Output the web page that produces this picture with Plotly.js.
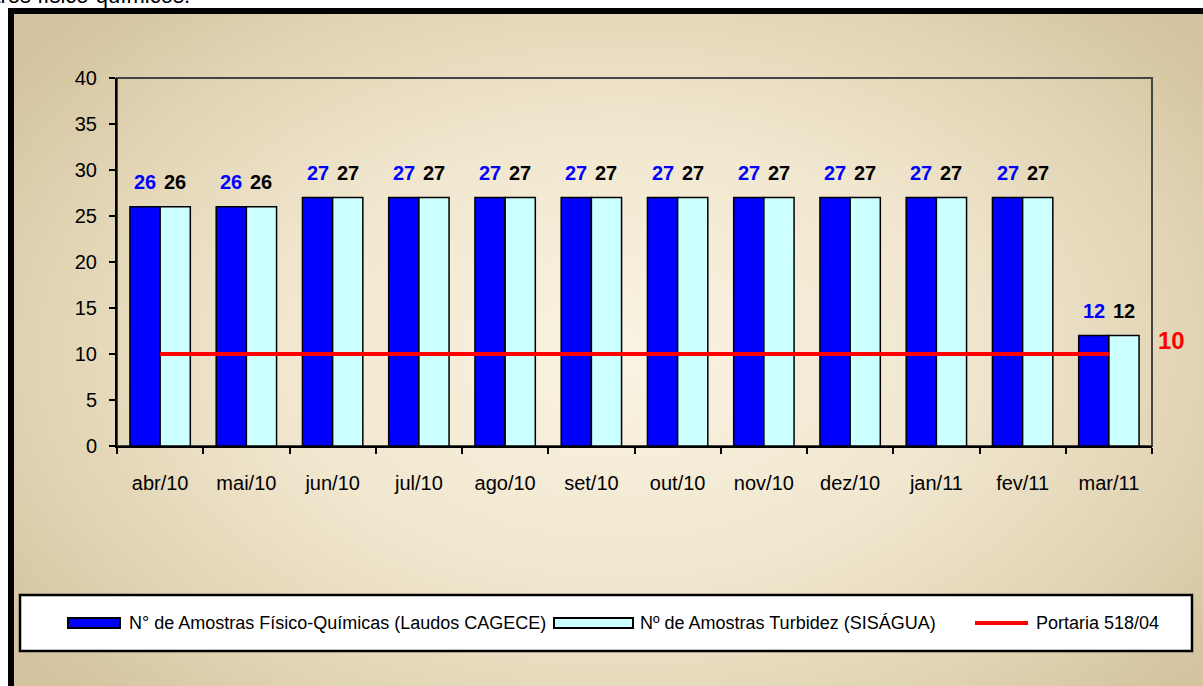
<!DOCTYPE html>
<html>
<head>
<meta charset="utf-8">
<script src="https://cdn.plot.ly/plotly-3.0.1.min.js"></script>
<style>
  html, body { margin: 0; padding: 0; width: 1203px; height: 686px; overflow: hidden; background: #ffffff; position: relative; }
  #frame { position: absolute; left: 8px; top: 8px; width: 1260px; height: 760px; border: 6px solid #000;
    background: radial-gradient(ellipse 60% 65% at 48% 45%, #faf3e2 0%, #f1e7cf 45%, #e2d5b5 75%, #d3c39e 100%); }
  #cut { position: absolute; right: 1013px; top: -17px; white-space: nowrap; font-family: Arial, "Liberation Sans", sans-serif; font-size: 22px; color: #000; }
  #chart { position: absolute; left: 0; top: 0; width: 1203px; height: 686px; }
</style>
</head>
<body>
<div id="frame"></div>
<div id="cut">Parâmetros físico-químicos.</div>
<div id="chart"></div>
<script>
const months = ["abr/10","mai/10","jun/10","jul/10","ago/10","set/10","out/10","nov/10","dez/10","jan/11","fev/11","mar/11"];
const fisicoQuimicas = [26,26,27,27,27,27,27,27,27,27,27,12];
const turbidez = [26,26,27,27,27,27,27,27,27,27,27,12];
const portaria = [10,10,10,10,10,10,10,10,10,10,10,10];
const names = ["N° de Amostras Físico-Químicas (Laudos CAGECE)", "Nº de Amostras Turbidez (SISÁGUA)", "Portaria 518/04"];
const colors = ['#0000ff', '#ccffff', '#ff0000'];

const FONT = 'Arial, "Liberation Sans", sans-serif';

const traces = [
  { type: 'bar', x: months, y: fisicoQuimicas, name: names[0],
    marker: { color: colors[0], line: { color: '#000000', width: 1.5 } }, hoverinfo: 'y' },
  { type: 'bar', x: months, y: turbidez, name: names[1],
    marker: { color: colors[1], line: { color: '#000000', width: 1.5 } }, hoverinfo: 'y' },
  { type: 'scatter', mode: 'lines', x: months, y: portaria, name: names[2],
    line: { color: colors[2], width: 4 }, hoverinfo: 'y' }
];

// plot area geometry in pixels (for paper-coordinate conversion of decorations)
const PL = 117, PR = 1152, PT = 78, PB = 446;
const px = v => (v - PL) / (PR - PL);
const py = v => (PB - v) / (PB - PT);

const annotations = [];
months.forEach((m, i) => {
  annotations.push({ x: m, y: fisicoQuimicas[i], xref: 'x', yref: 'y', text: String(fisicoQuimicas[i]),
    showarrow: false, xshift: -15, yanchor: 'bottom', yshift: 12,
    font: { family: FONT, size: 20, color: '#0000ff', weight: 'bold' } });
  annotations.push({ x: m, y: turbidez[i], xref: 'x', yref: 'y', text: String(turbidez[i]),
    showarrow: false, xshift: 15, yanchor: 'bottom', yshift: 12,
    font: { family: FONT, size: 20, color: '#000000', weight: 'bold' } });
});
const last = months.length - 1;
annotations.push({ x: months[last], y: portaria[last], xref: 'x', yref: 'y', text: String(portaria[last]),
  showarrow: false, xshift: 63, yshift: 14,
  font: { family: FONT, size: 24, color: '#ff0000', weight: 'bold' } });

// custom legend (wide symbols, as in the reference)
const legY = 623;
const legItems = [
  { kind: 'rect', s0: 68, s1: 120, t: 127 },
  { kind: 'rect', s0: 554, s1: 633, t: 638 },
  { kind: 'line', s0: 975, s1: 1028, t: 1034 }
];
const shapes = [
  { type: 'rect', xref: 'paper', yref: 'paper', x0: 0, x1: 1, y0: 0, y1: 1,
    line: { color: '#444', width: 2 }, layer: 'below' },
  { type: 'rect', xref: 'paper', yref: 'paper', x0: px(20), x1: px(1192),
    y0: py(651), y1: py(595), fillcolor: '#ffffff', line: { color: '#000', width: 2.5 }, layer: 'below' }
];
legItems.forEach((it, i) => {
  if (it.kind === 'rect') {
    shapes.push({ type: 'rect', xref: 'paper', yref: 'paper', x0: px(it.s0), x1: px(it.s1),
      y0: py(legY + 5), y1: py(legY - 5), fillcolor: colors[i], line: { color: '#000', width: 2 } });
  } else {
    shapes.push({ type: 'line', xref: 'paper', yref: 'paper', x0: px(it.s0), x1: px(it.s1),
      y0: py(legY), y1: py(legY), line: { color: colors[i], width: 4 } });
  }
  annotations.push({ xref: 'paper', yref: 'paper', x: px(it.t), y: py(legY), xanchor: 'left', yanchor: 'middle',
    text: names[i], showarrow: false, font: { family: FONT, size: 18, color: '#000' } });
});

const layout = {
  width: 1203, height: 686,
  margin: { l: PL, r: 1203 - PR, t: PT, b: 686 - PB },
  paper_bgcolor: 'rgba(0,0,0,0)', plot_bgcolor: 'rgba(0,0,0,0)',
  font: { family: FONT, size: 20, color: '#000' },
  barmode: 'group', bargap: 0.3, bargroupgap: 0,
  showlegend: false,
  xaxis: { type: 'category', range: [-0.5, months.length - 0.5], autorange: false,
    showline: true, linecolor: '#000', linewidth: 2,
    ticks: 'outside', ticklen: 6, tickcolor: '#000', tickwidth: 2, tickson: 'boundaries',
    ticklabelstandoff: 18, showgrid: false, zeroline: false, tickfont: { size: 20 } },
  yaxis: { range: [0, 40], autorange: false, dtick: 5, showline: true, linecolor: '#000', linewidth: 2,
    ticks: 'outside', ticklen: 6, tickcolor: '#000', tickwidth: 2, ticklabelstandoff: 8,
    showgrid: false, zeroline: false, tickfont: { size: 20 } },
  shapes: shapes,
  annotations: annotations
};

Plotly.newPlot('chart', traces, layout, { displayModeBar: false, staticPlot: true });
</script>
</body>
</html>
